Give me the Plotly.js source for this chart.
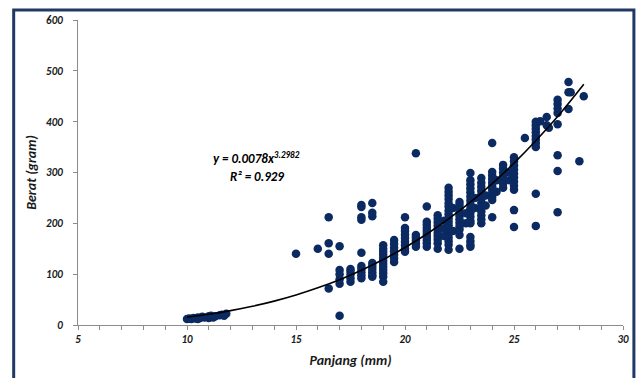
<!DOCTYPE html>
<html>
<head>
<meta charset="utf-8">
<script src="https://cdn.plot.ly/plotly-3.0.1.min.js"></script>
<style>
html,body{margin:0;padding:0;background:#fff;}
#chart{width:637px;height:378px;}
</style>
</head>
<body>
<div id="chart"></div>
<script>
// Observed points: Panjang (mm) vs Berat (gram)
const panjang = [
  10.0,10.1,10.2,10.3,10.4,10.5,10.5,10.6,10.7,10.8,11.0,11.0,11.1,11.1,11.2,11.3,11.5,11.6,11.7,11.8,
  15.0,16.0,16.5,16.5,16.5,16.5,17.0,17.0,
  17.0,17.0,17.0,17.0,
  17.5,17.5,17.5,17.5,17.5,
  18.0,18.0,18.0,18.0,18.0,18.0,18.0,18.0,18.0,18.0,
  18.5,18.5,18.5,18.5,18.5,18.5,18.5,18.5,18.5,
  19.0,19.0,19.0,19.0,19.0,19.0,19.0,19.0,19.0,19.0,19.0,19.0,
  19.5,19.5,19.5,19.5,19.5,19.5,19.5,
  20.0,20.0,20.0,20.0,20.0,20.0,20.0,20.0,20.0,
  20.5,20.5,20.5,20.5,20.5,20.5,
  21.0,21.0,21.0,21.0,21.0,21.0,21.0,21.0,21.0,21.0,
  21.5,21.5,21.5,21.5,21.5,21.5,21.5,21.5,21.5,21.5,
  22.0,22.0,22.0,22.0,22.0,22.0,22.0,22.0,22.0,22.0,22.0,22.0,22.0,22.0,22.0,22.0,22.0,
  21.8,21.8,21.8,22.2,22.2,
  22.5,22.5,22.5,22.5,22.5,22.5,22.5,22.5,22.5,22.5,22.5,
  23.0,23.0,23.0,23.0,23.0,23.0,23.0,23.0,23.0,23.0,23.0,23.0,23.0,23.0,23.0,23.0,23.0,
  22.8,22.8,23.2,23.2,
  23.5,23.5,23.5,23.5,23.5,23.5,23.5,23.5,23.5,23.5,23.5,23.5,
  23.7,23.7,24.2,24.2,
  24.0,24.0,24.0,24.0,24.0,24.0,24.0,24.0,24.0,24.0,24.0,
  24.5,24.5,24.5,24.5,24.5,24.5,24.5,
  25.0,25.0,25.0,25.0,25.0,25.0,25.0,25.0,25.0,25.0,25.0,
  24.8,24.8,
  25.5,
  26.0,26.0,26.0,26.0,26.0,26.0,26.0,26.0,26.0,26.0,
  26.2,26.5,26.5,26.6,
  27.0,27.0,27.0,27.0,27.0,27.0,27.0,27.0,
  27.5,27.5,27.5,27.6,28.0,28.2
];
const berat = [
  12,13,12,14,13,15,12,14,16,15,17,14,18,16,15,17,19,20,18,22,
  140,150,212,161,140,72,155,18,
  81,90,100,108,
  85,92,100,106,110,
  236,232,212,207,142,116,110,104,98,92,
  240,221,214,122,116,110,104,98,95,
  157,150,144,138,132,126,120,114,108,102,95,85,
  167,160,152,145,138,131,124,
  212,191,185,178,171,164,157,150,144,
  338,177,172,166,160,154,
  233,203,197,191,185,179,173,167,161,154,
  216,209,202,195,188,181,175,168,161,150,
  270,262,255,248,240,233,225,218,210,203,196,188,180,172,165,158,148,
  205,190,175,230,185,
  242,236,229,222,215,208,201,194,188,177,150,
  299,285,277,269,261,253,245,237,229,221,213,205,200,173,165,158,154,
  220,200,250,230,
  289,280,272,264,256,248,240,232,224,216,208,200,
  255,235,285,262,
  358,301,294,287,280,273,266,259,252,246,212,
  315,308,300,292,285,278,270,
  330,322,314,306,298,290,282,274,266,226,193,
  300,285,
  368,
  400,393,386,379,372,365,358,350,258,195,
  401,409,393,388,
  443,435,426,417,395,334,303,222,
  478,458,425,458,322,450
];
// Power trendline y = 0.0078x^3.2982, values read at sample lengths
const trendX = [10,11,12,13,14,15,16,17,18,19,20,21,22,23,24,25,26,27,28,28.2];
const trendY = [15.5,21.2,28.3,36.8,47.0,59.0,73.1,89.2,107.7,128.7,152.5,179.1,208.8,241.8,278.3,318.4,362.4,410.0,462.7,473.7];
const xTicks = [5,10,15,20,25,30];
const yTicks = [0,100,200,300,400,500,600];
const eqText = 'y = 0.0078x<sup>3.2982</sup>';
const r2Text = 'R² = 0.929';

const fontFam = 'Carlito, Lato, "Open Sans", sans-serif';
const tickFont = {family: fontFam, size: 11, color: '#1a1a1a', weight: 'bold', style: 'italic'};
const titleFont = {family: fontFam, size: 14, color: '#1a1a1a', weight: 'bold', style: 'italic'};

const traces = [
  {x: panjang, y: berat, type: 'scatter', mode: 'markers',
   marker: {color: '#0b2a62', size: 8.5}, hoverinfo: 'skip', showlegend: false},
  {x: trendX, y: trendY, type: 'scatter', mode: 'lines', line: {color: '#000000', width: 1.6, shape: 'spline'},
   hoverinfo: 'skip', showlegend: false}
];

const layout = {
  width: 637, height: 378,
  margin: {l: 78, r: 14, t: 20, b: 53},
  paper_bgcolor: '#ffffff', plot_bgcolor: '#ffffff',
  showlegend: false,
  xaxis: {
    range: [5, 30], tickvals: xTicks, ticktext: xTicks.map(String),
    showgrid: false, zeroline: false, showline: true, linecolor: '#8c8c8c', linewidth: 1,
    ticks: 'outside', ticklen: 4, tickcolor: '#8c8c8c', tickfont: tickFont,
    minor: {dtick: 1, ticks: 'outside', ticklen: 4, tickcolor: '#8c8c8c', showgrid: false},
    title: {text: 'Panjang (mm)', font: titleFont, standoff: 9}
  },
  yaxis: {
    range: [0, 600], tickvals: yTicks, ticktext: yTicks.map(String),
    showgrid: false, zeroline: false, showline: true, linecolor: '#8c8c8c', linewidth: 1,
    ticks: 'outside', ticklen: 4, tickcolor: '#8c8c8c', tickfont: tickFont,
    ticklabelstandoff: 8,
    title: {text: 'Berat (gram)', font: titleFont, standoff: 6}
  },
  annotations: [
    {x: 13.2, y: 329, xref: 'x', yref: 'y', text: eqText, showarrow: false,
     font: {family: fontFam, size: 13, color: '#000', weight: 'bold', style: 'italic'}},
    {x: 13.2, y: 292, xref: 'x', yref: 'y', text: r2Text, showarrow: false,
     font: {family: fontFam, size: 13, color: '#000', weight: 'bold', style: 'italic'}}
  ],
  shapes: [
    {type: 'rect', xref: 'paper', yref: 'paper', x0: -0.118, x1: 1.020, y0: -0.3, y1: 1.033,
     line: {color: '#1f3864', width: 3}, fillcolor: 'rgba(0,0,0,0)', layer: 'above'}
  ]
};

Plotly.newPlot('chart', traces, layout, {staticPlot: true, displayModeBar: false});
</script>
</body>
</html>
